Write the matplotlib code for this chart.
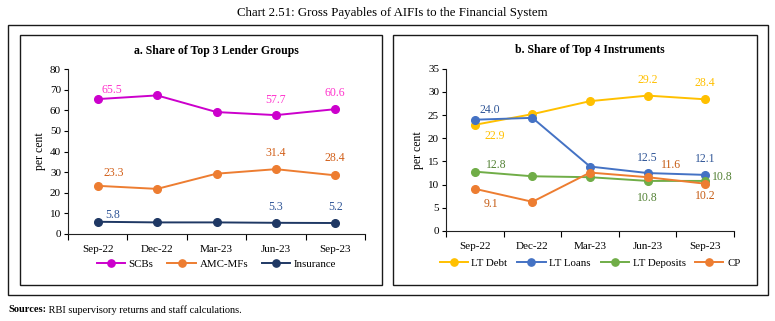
import matplotlib.pyplot as plt
from matplotlib.patches import Rectangle

plt.rcParams["font.family"] = ["Liberation Serif", "DejaVu Serif"]

quarters = ["Sep-22", "Dec-22", "Mar-23", "Jun-23", "Sep-23"]

# panel a: lender groups (per cent)
scbs = [65.5, 67.3, 59.2, 57.7, 60.6]
amc_mfs = [23.3, 21.8, 29.2, 31.4, 28.4]
insurance = [5.8, 5.5, 5.5, 5.3, 5.2]

# panel b: instruments (per cent)
lt_debt = [22.9, 25.2, 28.0, 29.2, 28.4]
lt_loans = [24.0, 24.4, 13.9, 12.5, 12.1]
lt_deposits = [12.8, 11.8, 11.6, 10.8, 10.8]
cp = [9.1, 6.3, 12.6, 11.6, 10.2]

W, H = 775, 321
fig = plt.figure(figsize=(W / 100, H / 100), dpi=100)


def px_axes(x0, y0, x1, y1):
    # pixel box (top-left origin) -> figure axes
    return fig.add_axes([x0 / W, 1 - y1 / H, (x1 - x0) / W, (y1 - y0) / H])


def px_rect(x0, y0, x1, y1, lw=1.0):
    fig.patches.append(Rectangle((x0 / W, 1 - y1 / H), (x1 - x0) / W, (y1 - y0) / H,
                                 transform=fig.transFigure, fill=False,
                                 edgecolor="#1a1a1a", linewidth=lw))


# frames
px_rect(8, 24.5, 768, 295)
px_rect(20, 35, 382, 285)
px_rect(393, 35, 757, 285)

fig.text(392 / W, 1 - 13 / H, "Chart 2.51: Gross Payables of AIFIs to the Financial System",
         ha="center", va="center", fontsize=9.3)
src = fig.text(8 / W, 1 - 310 / H, "Sources:", ha="left", va="center",
               fontsize=7.5, fontweight="bold")
fig.canvas.draw()
bb = src.get_window_extent()
fig.text(bb.x1 / W, 1 - 310 / H, " RBI supervisory returns and staff calculations.",
         ha="left", va="center", fontsize=7.5)


def style_axes(ax, ylim, yticks):
    ax.set_xlim(-0.5, 4.5)
    ax.set_ylim(*ylim)
    ax.set_yticks(yticks)
    ax.set_xticks(range(len(quarters)))
    ax.set_xticklabels(quarters)
    ax.set_xticks([i - 0.5 for i in range(len(quarters) + 1)], minor=True)
    ax.tick_params(axis="x", which="major", length=0, pad=8, labelsize=8)
    ax.tick_params(axis="x", which="minor", length=4, width=0.8, direction="out")
    ax.tick_params(axis="y", length=3, width=0.8, labelsize=8, pad=2)
    for s in ["top", "right"]:
        ax.spines[s].set_visible(False)
    for s in ["left", "bottom"]:
        ax.spines[s].set_linewidth(0.8)
        ax.spines[s].set_color("#222222")
    ax.set_ylabel("per cent", fontsize=8.5, labelpad=3)


def plot_series(ax, vals, color, label):
    ax.plot(range(len(vals)), vals, color=color, linewidth=1.4, marker="o",
            markersize=5.5, label=label, clip_on=False)


def add_labels(ax, vals, color, spots):
    for i, dx, dy in spots:
        ax.annotate(f"{vals[i]:.1f}", (i, vals[i]), xytext=(dx, dy),
                    textcoords="offset pixels", ha="center", va="center",
                    fontsize=8.5, color=color)


legend_kw = dict(loc="center", frameon=False, fontsize=7.8, handlelength=2.6,
                 handletextpad=0.35, markerscale=0.95)

# ---- panel a
ax1 = px_axes(68, 69.3, 365, 233.7)
style_axes(ax1, (0, 80), range(0, 81, 10))
plot_series(ax1, scbs, "#CC00CC", "SCBs")
plot_series(ax1, amc_mfs, "#ED7D31", "AMC-MFs")
plot_series(ax1, insurance, "#1F3864", "Insurance")
add_labels(ax1, scbs, "#FF33CC", [(0, 14, 9), (3, 0, 15), (4, 0, 16)])
add_labels(ax1, amc_mfs, "#D2601A", [(0, 16, 13), (3, 0, 16), (4, 0, 17)])
add_labels(ax1, insurance, "#2F5597", [(0, 15, 7), (3, 0, 16), (4, 0, 16)])
ax1.set_title("a. Share of Top 3 Lender Groups", fontsize=8.5, fontweight="bold",
              y=1.0, pad=11)
ax1.legend(bbox_to_anchor=(0.5, -0.183), ncol=3, columnspacing=1.3, **legend_kw)

# ---- panel b
ax2 = px_axes(446, 68.7, 734, 231)
style_axes(ax2, (0, 35), range(0, 36, 5))
plot_series(ax2, lt_debt, "#FFC000", "LT Debt")
plot_series(ax2, lt_loans, "#4472C4", "LT Loans")
plot_series(ax2, lt_deposits, "#70AD47", "LT Deposits")
plot_series(ax2, cp, "#ED7D31", "CP")
add_labels(ax2, lt_debt, "#FFC000", [(0, 20, -11), (3, 0, 16), (4, 0, 16)])
add_labels(ax2, lt_loans, "#2F5597", [(0, 15, 10), (3, 0, 15), (4, 0, 16)])
add_labels(ax2, lt_deposits, "#548235", [(0, 21, 7), (3, 0, -17), (4, 17, 4)])
add_labels(ax2, cp, "#C55A11", [(0, 16, -15), (3, 23, 12), (4, 0, -12)])
ax2.set_title("b. Share of Top 4 Instruments", fontsize=8.5, fontweight="bold",
              y=1.0, pad=11)
ax2.legend(bbox_to_anchor=(0.5, -0.197), ncol=4, columnspacing=0.9, **legend_kw)

fig.savefig("out.png", dpi=100)
